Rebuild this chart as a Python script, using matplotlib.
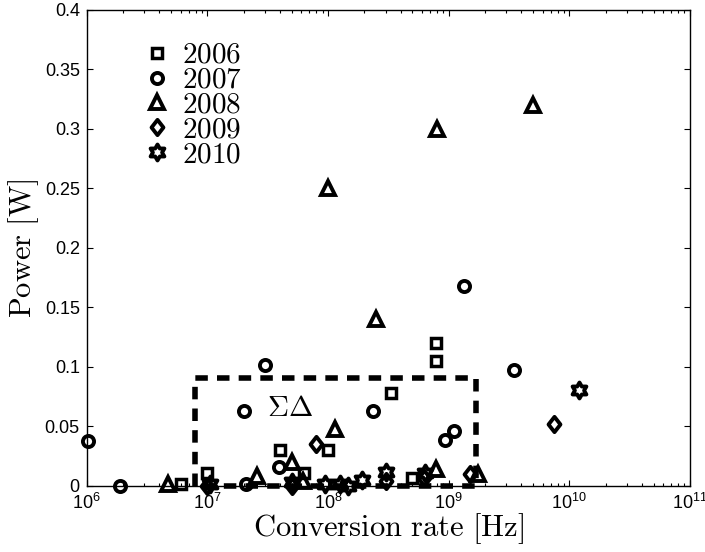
import numpy as np
import matplotlib
matplotlib.use("Agg")
import matplotlib.pyplot as plt
from matplotlib.path import Path
from matplotlib.markers import MarkerStyle
from matplotlib.ticker import FixedLocator, LogLocator, NullFormatter

plt.rcParams['font.family'] = ['Liberation Sans', 'DejaVu Sans']
plt.rcParams['mathtext.fontset'] = 'custom'
plt.rcParams['mathtext.rm'] = 'Liberation Sans'
plt.rcParams['mathtext.it'] = 'Liberation Sans:italic'
plt.rcParams['mathtext.bf'] = 'Liberation Sans:bold'

# ---- data (conversion rate [Hz], power [W]) ----
years = ['2006', '2007', '2008', '2009', '2010']

rate_2006 = [6.1e6, 1.0e7, 4.0e7, 6.3e7, 1.0e8, 3.3e8, 5.0e8, 7.8e8, 7.8e8]
power_2006 = [0.002, 0.011, 0.030, 0.011, 0.030, 0.078, 0.0065, 0.105, 0.120]

rate_2007 = [1.02e6, 1.9e6, 2.0e7, 2.1e7, 3.0e7, 3.9e7, 2.35e8, 9.4e8, 1.1e9, 1.34e9, 3.5e9]
power_2007 = [0.038, 0.0, 0.063, 0.002, 0.102, 0.016, 0.063, 0.039, 0.046, 0.168, 0.0975]

rate_2008 = [4.7e6, 2.6e7, 5.0e7, 6.2e7, 1.0e8, 1.14e8, 2.5e8, 8.0e8, 7.9e8, 1.75e9, 5.0e9]
power_2008 = [0.002, 0.008, 0.020, 0.004, 0.25, 0.048, 0.14, 0.30, 0.014, 0.010, 0.32]

rate_2009 = [1.0e7, 5.0e7, 8.0e7, 3.0e8, 6.2e8, 1.5e9, 7.5e9]
power_2009 = [0.0, 0.0, 0.035, 0.004, 0.007, 0.010, 0.052]

rate_2010 = [1.05e7, 5.0e7, 9.4e7, 1.26e8, 1.46e8, 1.9e8, 3.0e8, 6.4e8, 1.2e10]
power_2010 = [0.002, 0.003, 0.002, 0.002, 0.0, 0.005, 0.012, 0.011, 0.081]

# Sigma-Delta region box
box_rate = [7.9e6, 1.67e9]
box_power = [0.0, 0.0905]
box_label = r'$\Sigma\Delta$'
box_label_pos = (4.83e7, 0.0655)

yticks = [0, 0.05, 0.1, 0.15, 0.2, 0.25, 0.3, 0.35, 0.4]
yticklabels = ['0', '0.05', '0.1', '0.15', '0.2', '0.25', '0.3', '0.35', '0.4']

# ---- markers ----
diamond = Path([(0, 1), (0.78, 0), (0, -1), (-0.78, 0), (0, 1)],
               [Path.MOVETO, Path.LINETO, Path.LINETO, Path.LINETO, Path.CLOSEPOLY])
hexagram = Path.unit_regular_star(6, 0.577)

series = [
    (rate_2006, power_2006, MarkerStyle('s', joinstyle='miter'), 7.0, 2.5),
    (rate_2007, power_2007, MarkerStyle('o'), 8.0, 2.8),
    (rate_2008, power_2008, MarkerStyle('^', joinstyle='miter'), 10.0, 2.8),
    (rate_2009, power_2009, MarkerStyle(diamond, joinstyle='miter'), 11.0, 2.8),
    (rate_2010, power_2010, MarkerStyle(hexagram, joinstyle='miter'), 11.5, 2.8),
]

fig = plt.figure(figsize=(7.05, 5.52), dpi=100)
ax = fig.add_axes([0.1230, 0.1196, 0.8557, 0.8623])

# dashed box
bx = [box_rate[0], box_rate[0], box_rate[1], box_rate[1], box_rate[0]]
by = [box_power[0], box_power[1], box_power[1], box_power[0], box_power[0]]
ax.plot(bx, by, color='black', lw=4.0, linestyle=(0, (2.25, 1.65)),
        dash_capstyle='butt', clip_on=False, zorder=2)

handles = []
for (xs, ys, mk, ms, mew), lab in zip(series, years):
    h, = ax.plot(xs, ys, linestyle='none', marker=mk, markersize=ms,
                 markeredgewidth=mew, markerfacecolor='none',
                 markeredgecolor='black', clip_on=False, zorder=3,
                 label=r'$\mathrm{' + lab + '}$')
    handles.append(h)

ax.text(box_label_pos[0], box_label_pos[1], box_label, fontsize=21,
        ha='center', va='center', math_fontfamily='cm')

ax.set_xscale('log')
ax.set_xlim(1e6, 1e11)
ax.set_ylim(0, 0.4)
ax.xaxis.set_major_locator(LogLocator(base=10, numticks=10))
ax.xaxis.set_minor_locator(LogLocator(base=10, subs=np.arange(2, 10), numticks=100))
ax.xaxis.set_minor_formatter(NullFormatter())
ax.yaxis.set_major_locator(FixedLocator(yticks))
ax.set_yticklabels(yticklabels)

ax.tick_params(which='both', direction='in', top=True, right=True,
               labelsize=13, width=0.8, colors='black')
ax.tick_params(which='major', length=4.5, pad=5)
ax.tick_params(which='minor', length=2.5)
for sp in ax.spines.values():
    sp.set_linewidth(1.0)

ax.set_xlabel(r'$\mathrm{Conversion\ rate\ [Hz]}$', fontsize=22, math_fontfamily='cm')
ax.set_ylabel(r'$\mathrm{Power\ [W]}$', fontsize=22, math_fontfamily='cm')
ax.xaxis.set_label_coords(0.5, -0.053)
ax.yaxis.set_label_coords(-0.075, 0.5)

leg = ax.legend(handles=handles, loc='upper left', bbox_to_anchor=(0.0923, 0.935),
                frameon=False, fontsize=21, handlelength=1.0, handletextpad=0.35,
                labelspacing=-0.11, borderpad=0.0, borderaxespad=0.0)
for t in leg.get_texts():
    t.set_math_fontfamily('cm')

fig.savefig('out.png', dpi=100)
